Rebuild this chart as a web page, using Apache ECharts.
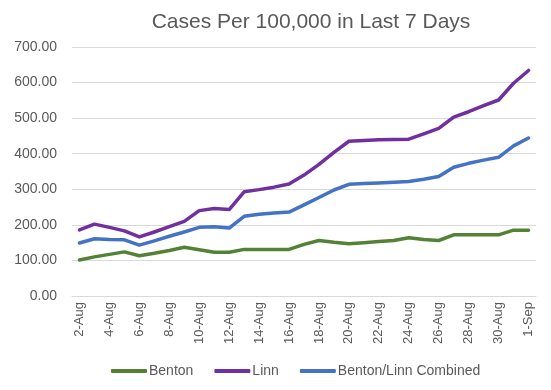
<!DOCTYPE html>
<html><head><meta charset="utf-8">
<script src="https://cdn.jsdelivr.net/npm/echarts@6/dist/echarts.min.js"></script>
<style>html,body{margin:0;padding:0;background:#fff}#c{width:551px;height:390px}</style>
</head><body><div id="c"></div>
<script>
var categories = ['2-Aug','3-Aug','4-Aug','5-Aug','6-Aug','7-Aug','8-Aug','9-Aug','10-Aug','11-Aug','12-Aug','13-Aug','14-Aug','15-Aug','16-Aug','17-Aug','18-Aug','19-Aug','20-Aug','21-Aug','22-Aug','23-Aug','24-Aug','25-Aug','26-Aug','27-Aug','28-Aug','29-Aug','30-Aug','31-Aug','1-Sep'];
var benton = [101,110,117,124,113,120,128,137,130,123,123,131,131,131,131,145,156,151,147,150,153,156,164,159,156,172,172,172,172,185,185];
var linn = [186,202,193,183,166,180,195,210,240,246,243,293,299,306,315,340,370,404,435,437,439,440,441,456,471,503,518,535,551,598,634];
var combined = [149,161,159,158,143,155,168,180,193,195,191,224,230,233,236,256,277,298,314,316,318,320,322,328,336,362,373,382,390,422,444];
var yTicks = {min:0, max:700, interval:100};

var chart = echarts.init(document.getElementById('c'));
var font = 'Liberation Sans';
function mk(name, data, color){
  return {name:name, type:'line', data:data, symbol:'none', smooth:false,
    lineStyle:{color:color, width:3.5, cap:'round', join:'round'}, itemStyle:{color:color}};
}
chart.setOption({
  animation:false,
  title:{text:'Cases Per 100,000 in Last 7 Days', left:306, textAlign:'center', top:7,
    textStyle:{fontFamily:font, fontSize:21, fontWeight:'normal', color:'#595959'}},
  grid:{left:72, right:15, top:47, bottom:94, containLabel:false},
  legend:{bottom:7, left:106, itemWidth:36, itemHeight:4, itemGap:21, icon:'roundRect',
    textStyle:{fontFamily:font, fontSize:14, color:'#595959', padding:[0,0,0,-3]},
    data:['Benton','Linn','Benton/Linn Combined']},
  xAxis:{type:'category', data:categories, boundaryGap:true,
    axisLine:{lineStyle:{color:'#d9d9d9', width:1}},
    axisTick:{interval:1, length:5, lineStyle:{color:'#d9d9d9'}},
    axisLabel:{interval:1, rotate:90, fontFamily:font, fontSize:13, color:'#595959', margin:6}},
  yAxis:{type:'value', min:yTicks.min, max:yTicks.max, interval:yTicks.interval,
    axisLine:{show:false}, axisTick:{show:false},
    splitLine:{lineStyle:{color:'#d9d9d9', width:1}},
    axisLabel:{fontFamily:font, fontSize:14, color:'#595959', margin:15,
      formatter:function(v){return v.toFixed(2);}}},
  series:[mk('Benton', benton, '#548235'), mk('Linn', linn, '#7030A0'), mk('Benton/Linn Combined', combined, '#4472C4')]
});
</script></body></html>
